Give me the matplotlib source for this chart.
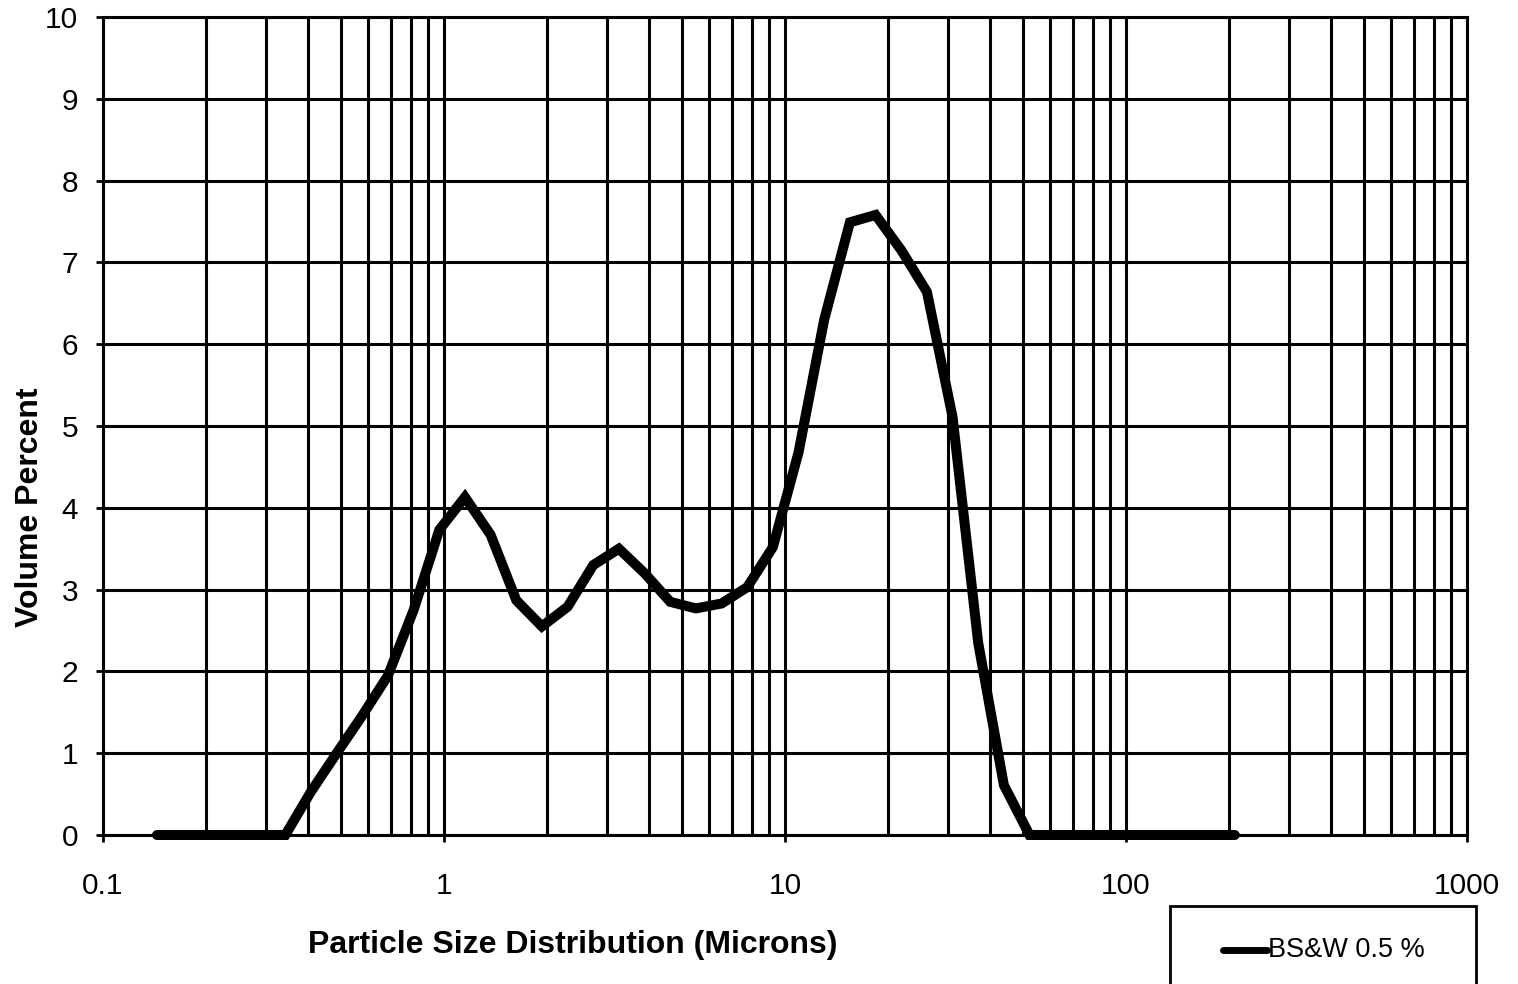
import matplotlib.pyplot as plt
from matplotlib.lines import Line2D
from matplotlib.patches import Rectangle
from matplotlib.ticker import LogLocator, NullFormatter, FixedLocator

plt.rcParams['font.family'] = ['Liberation Sans', 'DejaVu Sans']

# particle size bins (microns) and volume percent per bin
size_um = [0.1440, 0.1712, 0.2036, 0.2422, 0.2880, 0.3425, 0.4073, 0.4844,
           0.5760, 0.6850, 0.8146, 0.9687, 1.152, 1.370, 1.629, 1.937,
           2.304, 2.740, 3.258, 3.875, 4.608, 5.480, 6.517, 7.750, 9.216,
           10.96, 13.03, 15.50, 18.43, 21.92, 26.07, 31.00, 36.86, 43.84,
           52.13, 62.00, 73.73, 87.68, 104.3, 124.0, 147.5, 175.4, 208.5]
vol_pct = [0, 0, 0, 0, 0, 0, 0.53, 1.0, 1.46, 1.95, 2.75, 3.73, 4.13, 3.67,
           2.87, 2.55, 2.79, 3.30, 3.50, 3.20, 2.85, 2.77, 2.83, 3.03, 3.52,
           4.68, 6.30, 7.49, 7.58, 7.15, 6.64, 5.11, 2.35, 0.61,
           0, 0, 0, 0, 0, 0, 0, 0, 0]
series_name = 'BS&W 0.5 %'

xticks = [0.1, 1, 10, 100, 1000]
xticklabels = ['0.1', '1', '10', '100', '1000']
yticks = list(range(0, 11))

W, H = 1518, 984
fig = plt.figure(figsize=(W / 100, H / 100), dpi=100)
ax = fig.add_axes([103 / W, 1 - 835 / H, (1467 - 103) / W, (835 - 17) / H])

ax.plot(size_um, vol_pct, color='black', lw=7.2, solid_capstyle='round',
        solid_joinstyle='miter', zorder=3, clip_on=False)

ax.set_xscale('log')
ax.set_xlim(0.1, 1000)
ax.set_ylim(0, 10)
ax.xaxis.set_major_locator(FixedLocator(xticks))
ax.set_xticklabels(xticklabels)
ax.xaxis.set_minor_locator(LogLocator(base=10, subs=range(2, 10), numticks=20))
ax.xaxis.set_minor_formatter(NullFormatter())
ax.set_yticks(yticks)

ax.grid(True, which='both', axis='x', color='black', lw=2.2)
ax.grid(True, which='major', axis='y', color='black', lw=2.2)
ax.set_axisbelow(True)

for s in ax.spines.values():
    s.set_linewidth(2.2)
    s.set_color('black')

ax.tick_params(axis='both', which='major', direction='out', length=5, width=2,
               labelsize=21.5, colors='black')
ax.tick_params(axis='x', which='major', pad=22)
ax.tick_params(axis='y', which='major', pad=13)
ax.tick_params(axis='x', which='minor', length=0)

ax.set_xlabel('Particle Size Distribution (Microns)', fontsize=23,
              fontweight='bold')
ax.set_ylabel('Volume Percent', fontsize=23, fontweight='bold')
ax.xaxis.set_label_coords(0.3446, -0.1166)
ax.yaxis.set_label_coords(-0.0425, 0.401)

# legend box, drawn in figure pixels so it can run past the bottom edge
px = lambda x, y: (x / W, 1 - y / H)
x0, y0 = px(1170, 1000)
x1, y1 = px(1476, 906)
fig.patches.append(Rectangle((x0, y0), x1 - x0, y1 - y0, transform=fig.transFigure,
                             facecolor='white', edgecolor='black', lw=2.0))
lx0, ly = px(1223, 950)
lx1, _ = px(1267, 950)
fig.lines.append(Line2D([lx0, lx1], [ly, ly], transform=fig.transFigure,
                        color='black', lw=5, solid_capstyle='round'))
fig.text(lx1 + 1 / W, ly, series_name, fontsize=19.5, va='center', ha='left')

fig.savefig('out.png', dpi=100)
